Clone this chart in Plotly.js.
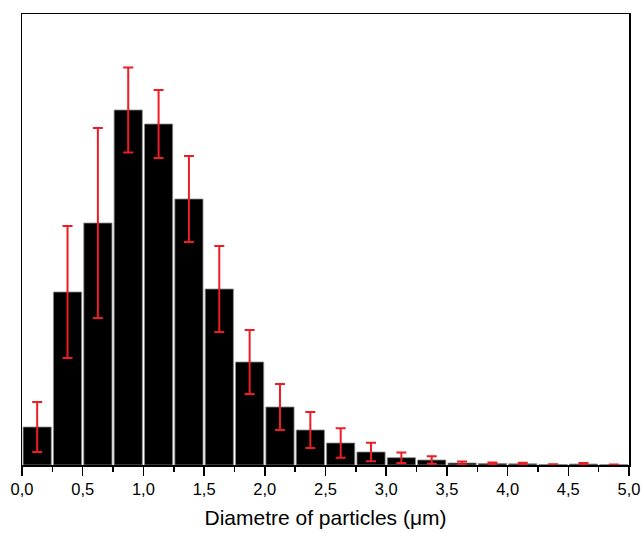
<!DOCTYPE html>
<html>
<head>
<meta charset="utf-8">
<script src="https://cdn.plot.ly/plotly-3.0.1.min.js"></script>
<style>html,body{margin:0;padding:0;background:#fff;}#chart{width:643px;height:533px;}</style>
</head>
<body>
<div id="chart"></div>
<script>
// bin centres (µm), bin width 0.25
const binCentres = [0.125,0.375,0.625,0.875,1.125,1.375,1.625,1.875,2.125,2.375,2.625,2.875,3.125,3.375,3.625,3.875,4.125,4.375,4.625,4.875];
// relative frequency (arbitrary units)
const frequency = [38,173,242,355,341,266,176,103,58,35,22,13,7.3,5,2,1.5,1.2,0.5,1,0.3];
// error (±)
const errorValues = [25,66,95,42.5,34,43,43,32,23,18,14.7,9.3,5.3,3.7,1.5,1,1,0.3,1,0.2];
// tick labels
const tickValues = [0,0.5,1,1.5,2,2.5,3,3.5,4,4.5,5];
const tickLabels = ["0,0","0,5","1,0","1,5","2,0","2,5","3,0","3,5","4,0","4,5","5,0"];

const trace = {
  type: 'bar',
  x: binCentres,
  y: frequency,
  width: 0.232,
  marker: {color: '#000000', line: {color: '#8a8a8a', width: 0.8}},
  error_y: {type: 'data', array: errorValues, visible: true, color: '#ee1c25', thickness: 2, width: 5},
  hoverinfo: 'none'
};

const layout = {
  width: 643, height: 533,
  margin: {l: 22, r: 14, t: 14, b: 68},
  paper_bgcolor: '#ffffff', plot_bgcolor: '#ffffff',
  showlegend: false,
  font: {family: 'Liberation Sans, Arial, sans-serif', color: '#000'},
  xaxis: {
    range: [0, 5],
    tickvals: tickValues, ticktext: tickLabels,
    ticks: 'outside', ticklen: 9, tickwidth: 1.5, tickcolor: '#000',
    minor: {dtick: 0.25, tick0: 0, ticks: 'outside', ticklen: 5, tickwidth: 1.5, tickcolor: '#000', showgrid: false},
    showline: true, linecolor: '#000', linewidth: 1.5, mirror: true,
    showgrid: false, zeroline: false,
    tickfont: {size: 16.5, family: 'Liberation Sans, Arial, sans-serif'},
    title: {text: 'Diametre of particles (μm)', font: {size: 21, family: 'Liberation Sans, Arial, sans-serif'}, standoff: 13}
  },
  yaxis: {
    range: [0, 451],
    showticklabels: false, ticks: '',
    showline: true, linecolor: '#000', linewidth: 1.5, mirror: true,
    showgrid: false, zeroline: false
  }
};

Plotly.newPlot('chart', [trace], layout, {displayModeBar: false, staticPlot: true});
</script>
</body>
</html>
